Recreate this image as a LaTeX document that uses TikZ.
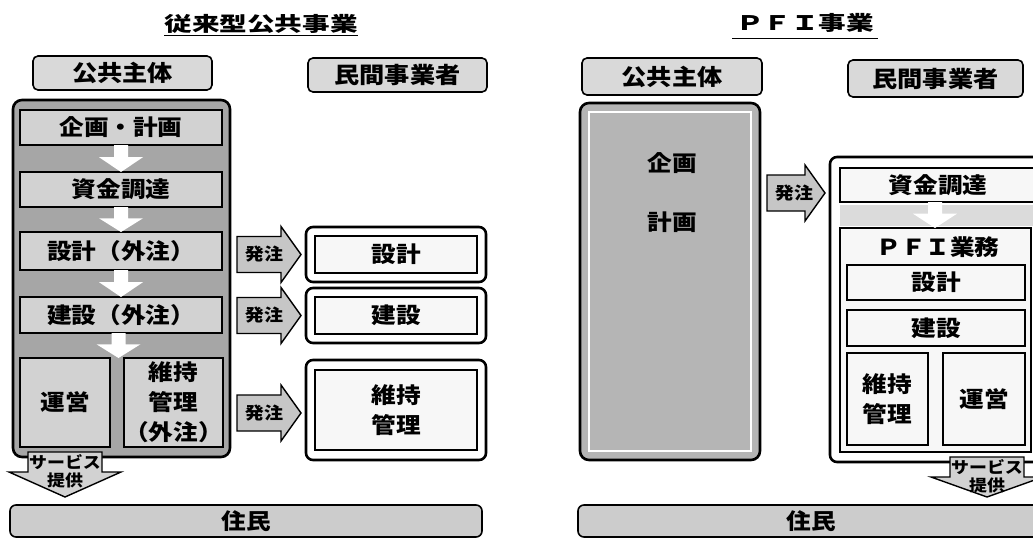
\documentclass[tikz,border=0pt]{standalone}
\usepackage{fontspec}
\setmainfont{Noto Sans CJK JP}
\usetikzlibrary{calc}
\newcommand\sx[1]{\scalebox{1.12}[1]{#1}}
\newcommand\tx[1]{\scalebox{1.38}[1]{#1}}
\tikzset{
 base/.style={inner sep=0pt, outer sep=0pt, align=center},
 hdr/.style={base, draw, line width=1.6pt, rounded corners=5pt, fill=gray!30, font=\bfseries\fontsize{22.5}{26}\selectfont},
 outerbox/.style={base, draw, line width=2.6pt, rounded corners=9pt, fill=gray!70},
 gbox/.style={base, draw, line width=1.6pt, fill=gray!35, font=\bfseries\fontsize{22}{30}\selectfont},
 pouter/.style={base, draw, line width=2.6pt, rounded corners=7pt, fill=white},
 pinner/.style={base, draw, line width=1.6pt, fill=gray!6, font=\bfseries\fontsize{22}{30}\selectfont},
 oarrow/.style={draw, line width=1.4pt, fill=gray!45, line join=miter},
 otext/.style={base, font=\bfseries\fontsize{17}{19}\selectfont},
 sarrow/.style={draw, line width=1.4pt, fill=gray!35, line join=miter},
 stext/.style={base, font=\bfseries\fontsize{16}{18}\selectfont},
 ttl/.style={base, font=\bfseries\fontsize{20}{24}\selectfont},
 jumin/.style={base, draw, line width=1.6pt, rounded corners=6pt, fill=gray!40, font=\bfseries\fontsize{22}{26}\selectfont},
 plain/.style={base, font=\bfseries\fontsize{22}{26}\selectfont},
}
% order arrow: #1 source, #2 target, #3 y-reference, #4 label node name
\newcommand\orderarrow[4]{%
 \draw[oarrow] let \p1=(#1.east), \p2=(#2.west), \p3=(#3) in
  (\x1+7pt,\y3+18pt) -- (\x2-25pt,\y3+18pt) -- (\x2-25pt,\y3+28pt) -- (\x2-5pt,\y3)
  -- (\x2-25pt,\y3-28pt) -- (\x2-25pt,\y3-18pt) -- (\x1+7pt,\y3-18pt) -- cycle
  (\x1+34pt,\y3) node[otext] (#4) {\sx{発注}};
}
% service arrow: #1 x-reference, #2 source box, #3 target bar, #4 label prefix
\newcommand\servarrow[4]{%
 \draw[sarrow] let \p1=(#1), \p2=(#2.south), \p3=(#3.north) in
  (\x1-37pt,\y2+5pt) -- (\x1-37pt,\y2-15pt) -- (\x1-56pt,\y2-15pt) -- (\x1,\y3+8pt)
  -- (\x1+56pt,\y2-15pt) -- (\x1+37pt,\y2-15pt) -- (\x1+37pt,\y2+5pt) -- cycle
  (\x1,\y2-5pt) node[stext] (#4a) {\sx{サービス}}
  (\x1,\y2-23pt) node[stext] (#4b) {\sx{提供}};
}
% white down arrow between two boxes
\newcommand\wdown[2]{%
 \fill[white] let \p1=(#1), \p2=(#2), \p3=($(#1)!0.45!(#2)$) in
  (\x2-7pt,\y1) -- (\x2-7pt,\y3) -- (\x2-22pt,\y3) -- (\x2,\y2) -- (\x2+22pt,\y3)
  -- (\x2+7pt,\y3) -- (\x2+7pt,\y1) -- cycle;
}
\begin{document}
\begin{tikzpicture}[x=1pt,y=-1pt]
\useasboundingbox (0,0) rectangle (1033,541);
\clip (0,0) rectangle (1033,541);

% ================= left panel =================
\node[ttl] (t1) at (261,24) {\tx{従来型公共事業}};
\draw[line width=1.3pt] ($(t1.south west)+(0,2)$) -- ($(t1.south east)+(0,2)$);

\node[hdr, minimum width=179pt, minimum height=34pt] (hL1) at (122.5,73) {\sx{公共主体}};
\node[hdr, minimum width=179pt, minimum height=34pt] (hL2) at (397.5,75) {\sx{民間事業者}};

\node[outerbox, minimum width=217pt, minimum height=357pt] (outerL) at (121.5,278.5) {};
\node[gbox, minimum width=202pt, minimum height=35pt] (kikaku) at (121,127.5) {\sx{企画・計画}};
\node[gbox, minimum width=202pt, minimum height=35pt] (shikin) at (121,189.5) {\sx{資金調達}};
\node[gbox, minimum width=202pt, minimum height=38pt] (sekkeiL) at (121,251) {\sx{設計（外注）}};
\node[gbox, minimum width=202pt, minimum height=36pt] (kensetsuL) at (121,315) {\sx{建設（外注）}};
\node[gbox, minimum width=90pt, minimum height=89pt] (unei) at (65,402.5) {\sx{運営}};
\node[gbox, minimum width=93pt, minimum height=89pt] (ijiL) at (173.5,402.5) {\sx{維持}\\\sx{管理}\\\sx{（外注）}};
\coordinate (gapL) at (118.5,358);
\wdown{kikaku.south}{shikin.north}
\wdown{shikin.south}{sekkeiL.north}
\wdown{sekkeiL.south}{kensetsuL.north}
\wdown{kensetsuL.south -| gapL}{gapL}

\node[pouter, minimum width=180pt, minimum height=55pt] (sekkeiR) at (396,254.5) {};
\node[pinner, minimum width=162pt, minimum height=37pt] (sekkeiRi) at (396,254.5) {\sx{設計}};
\node[pouter, minimum width=180pt, minimum height=55pt] (kensetsuR) at (396,315.5) {};
\node[pinner, minimum width=162pt, minimum height=37pt] (kensetsuRi) at (396,315.5) {\sx{建設}};
\node[pouter, minimum width=180pt, minimum height=100pt] (ijiR) at (396,410) {};
\node[pinner, minimum width=162pt, minimum height=80pt] (ijiRi) at (396,410) {\sx{維持}\\\sx{管理}};

\orderarrow{outerL}{sekkeiR}{sekkeiR.center}{o1}
\orderarrow{outerL}{kensetsuR}{kensetsuR.center}{o2}
\coordinate (o3y) at (396,413);
\orderarrow{outerL}{ijiR}{o3y}{o3}

\node[jumin, minimum width=472pt, minimum height=32pt] (juminL) at (246,521) {\sx{住民}};
\coordinate (sxL) at (65,0);
\servarrow{sxL}{outerL}{juminL}{svL}

% ================= right panel =================
\node[ttl] (t2) at (805,23) {\tx{ＰＦＩ事業}};
\draw[line width=1.3pt] ($(t2.south west)+(-4,6)$) -- ($(t2.south east)+(4,6)$);

\node[hdr, minimum width=180pt, minimum height=37pt] (hR1) at (672,76.5) {\sx{公共主体}};
\node[hdr, minimum width=175pt, minimum height=37pt] (hR2) at (935.5,78.5) {\sx{民間事業者}};

\node[base, draw, line width=2.6pt, rounded corners=9pt, fill=gray!58, minimum width=180pt, minimum height=357pt] (pubbig) at (670,281.5) {};
\node[base, draw=white, line width=1.2pt, minimum width=162pt, minimum height=339pt] (pubbigin) at (670,281.5) {};
\node[plain] (kikakuP) at (672,163) {\sx{企画}};
\node[plain] (keikakuP) at (672,222) {\sx{計画}};

\node[pouter, minimum width=215pt, minimum height=305pt] (privbig) at (937.5,309.5) {};
\node[pinner, minimum width=196pt, minimum height=34pt] (shikinR) at (938,185) {\sx{資金調達}};
\fill[gray!28] (840,205) rectangle (1036,226);
\node[base, draw, line width=1.6pt, fill=gray!6, minimum width=191pt, minimum height=224pt] (pfi) at (935.5,340) {};
\node[plain] (pfilabel) at (938,247) {\sx{ＰＦＩ業務}};
\coordinate (pfiTop) at (935,228);
\wdown{shikinR.south -| pfiTop}{pfiTop}
\node[pinner, minimum width=178pt, minimum height=35pt] (sekkeiP) at (936,282.5) {\sx{設計}};
\node[pinner, minimum width=178pt, minimum height=36pt] (kensetsuP) at (936,328) {\sx{建設}};
\node[pinner, minimum width=81pt, minimum height=92pt] (ijiP) at (887.5,399) {\sx{維持}\\\sx{管理}};
\node[pinner, minimum width=82pt, minimum height=92pt] (uneiP) at (984,399) {\sx{運営}};

\coordinate (oRy) at (795,193);
\orderarrow{pubbig}{privbig}{oRy}{oR}

\node[jumin, minimum width=467pt, minimum height=32pt] (juminR) at (811.5,521) {\sx{住民}};
\coordinate (sxR) at (987,0);
\servarrow{sxR}{privbig}{juminR}{svR}
\end{tikzpicture}
\end{document}
